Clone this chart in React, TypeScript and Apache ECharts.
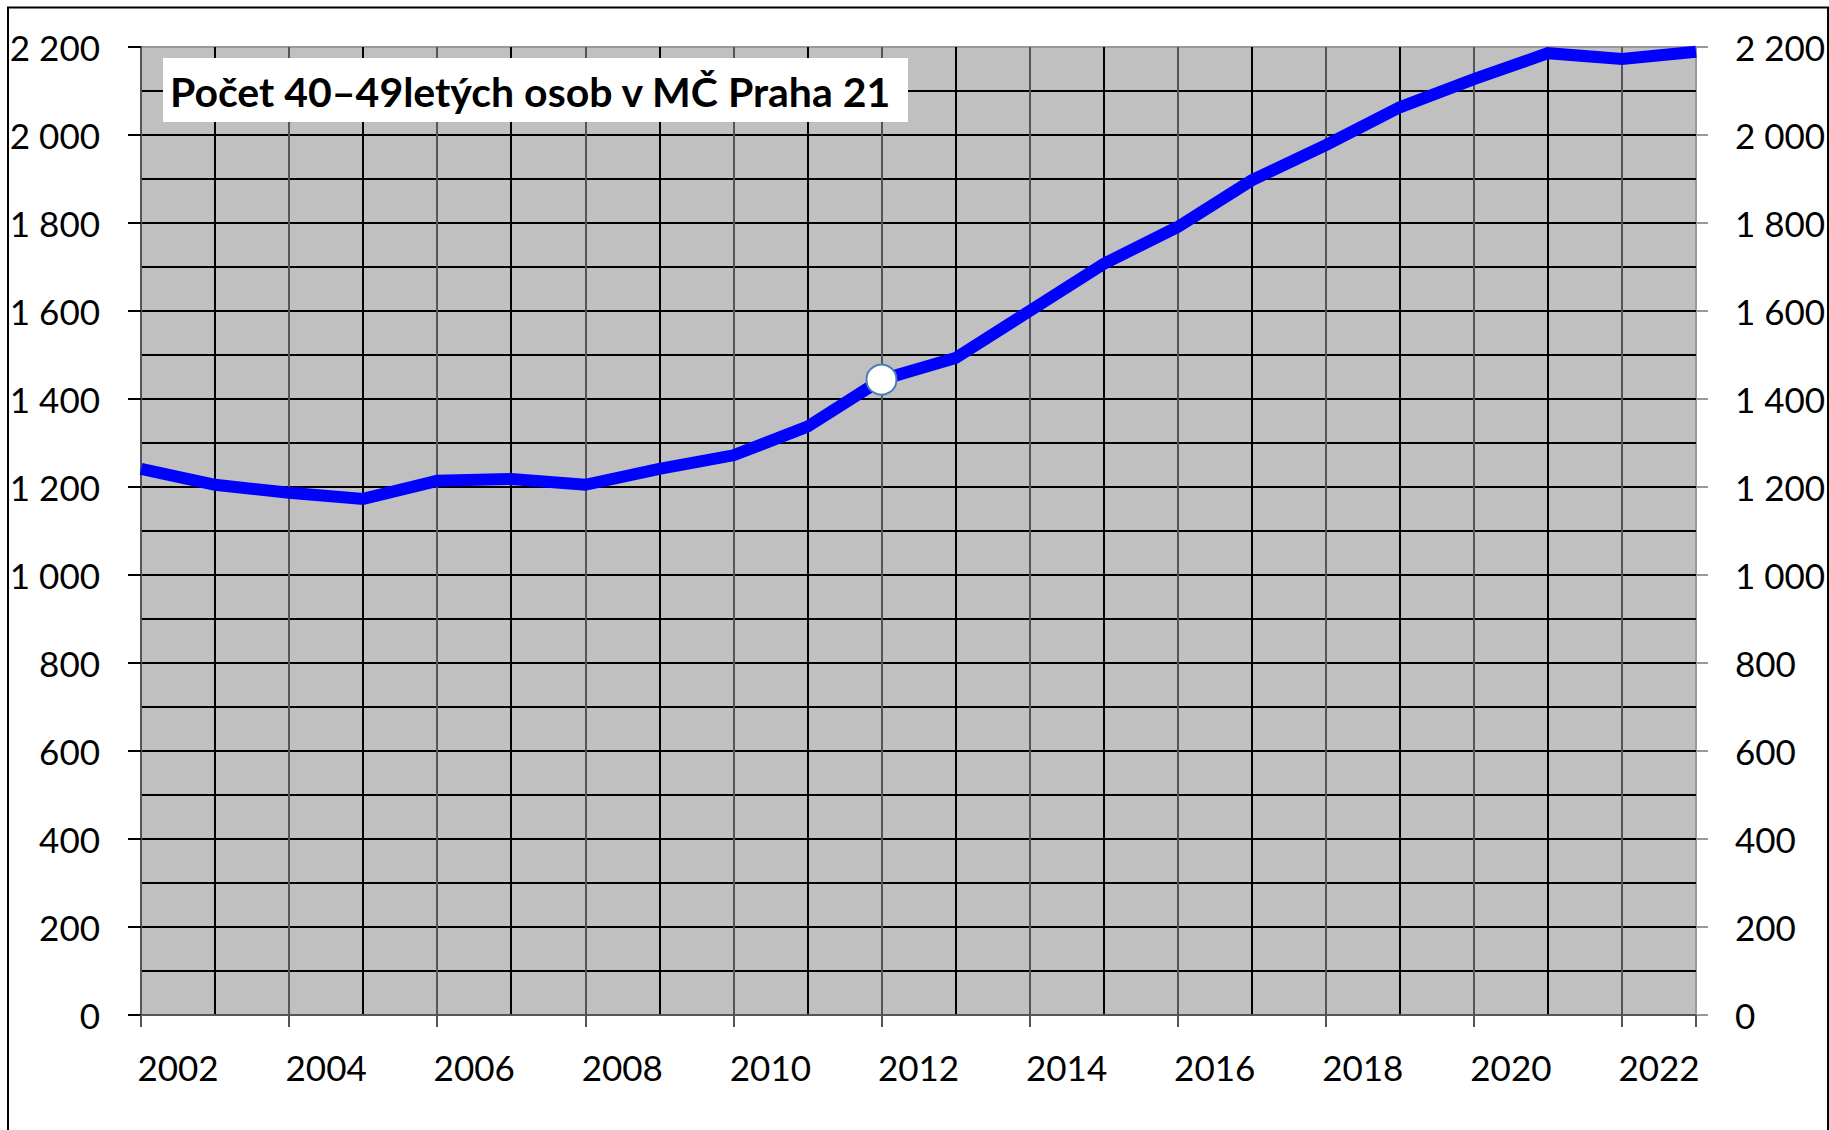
import React, { useEffect, useRef } from 'react';
import * as echarts from 'echarts';

const yearLabels = ['2002', '2003', '2004', '2005', '2006', '2007', '2008', '2009', '2010', '2011', '2012', '2013', '2014', '2015', '2016', '2017', '2018', '2019', '2020', '2021', '2022'];
const population = [1241, 1205, 1187, 1173, 1214, 1218, 1205, 1241, 1272, 1337, 1444, 1493, 1600, 1707, 1791, 1897, 1977, 2063, 2127, 2186, 2173, 2189];
const highlightedIndex = 10;
const titleText = 'Počet 40–49letých osob v MČ Praha 21';
const yMin = 0;
const yMax = 2200;

const fmt = (v: number) =>
  v >= 1000 ? `${Math.floor(v / 1000)} ${String(v % 1000).padStart(3, '0')}` : String(v);

const FONT = 'Lato';

export default function App() {
  const ref = useRef<HTMLDivElement>(null);
  useEffect(() => {
    if (!ref.current) return;
    const chart = echarts.init(ref.current, undefined, { renderer: 'svg' });
    chart.setOption({
      animation: false,
      grid: {
        left: 141,
        right: 133,
        top: 47,
        bottom: 115,
        show: true,
        backgroundColor: '#c0c0c0',
        borderColor: '#999',
        borderWidth: 2,
      },
      xAxis: [
        {
          type: 'category',
          data: yearLabels,
          boundaryGap: true,
          position: 'bottom',
          axisLine: { show: true, lineStyle: { color: '#555', width: 2 } },
          axisTick: { show: true, interval: 1, length: 12, lineStyle: { color: '#555', width: 2 } },
          axisLabel: { interval: 1, margin: 34, fontSize: 35, fontFamily: FONT, color: '#000' },
          splitLine: { show: false },
        },
        {
          type: 'value',
          min: 0,
          max: population.length - 1,
          interval: 1,
          position: 'top',
          axisLine: { show: false },
          axisTick: { show: false },
          axisLabel: { show: false },
          splitLine: { show: true, showMaxLine: false, lineStyle: { color: ['#555', '#000'], width: 2 } },
        },
      ],
      yAxis: [
        {
          type: 'value',
          min: yMin,
          max: yMax,
          interval: 200,
          position: 'left',
          axisLine: { show: true, lineStyle: { color: '#555', width: 2 } },
          axisTick: { show: true, length: 13, lineStyle: { color: '#000', width: 2 } },
          axisLabel: { margin: 41, fontSize: 35, fontFamily: FONT, color: '#000', formatter: fmt },
          splitLine: { show: false },
        },
        {
          type: 'value',
          min: yMin,
          max: yMax,
          interval: 200,
          position: 'right',
          axisLine: { show: false },
          axisTick: { show: true, length: 12, lineStyle: { color: '#999', width: 2 } },
          axisLabel: { margin: 39, fontSize: 35, fontFamily: FONT, color: '#000', formatter: fmt },
          splitLine: { show: false },
        },
        {
          type: 'value',
          min: yMin,
          max: yMax,
          interval: 100,
          position: 'left',
          axisLine: { show: false },
          axisTick: { show: false },
          axisLabel: { show: false },
          splitLine: { show: true, showMinLine: false, showMaxLine: false, lineStyle: { color: '#000', width: 2 } },
        },
      ],
      series: [
        {
          type: 'line',
          xAxisIndex: 1,
          yAxisIndex: 0,
          data: population.map((v, i) => [i, v]),
          symbol: 'none',
          lineStyle: { color: '#0000ff', width: 12, join: 'miter' },
          z: 3,
        },
        {
          type: 'scatter',
          xAxisIndex: 1,
          yAxisIndex: 0,
          data: [[highlightedIndex, population[highlightedIndex]]],
          symbol: 'circle',
          symbolSize: 30,
          itemStyle: { color: '#fff', borderColor: '#4a7ebb', borderWidth: 2, opacity: 1 },
          z: 4,
        },
      ],
      graphic: [
        {
          type: 'rect',
          silent: true,
          shape: { x: 8, y: 7.5, width: 1820, height: 1200 },
          style: { fill: 'none', stroke: '#000', lineWidth: 2 },
          z: 20,
        },
        {
          type: 'rect',
          silent: true,
          shape: { x: 163, y: 58, width: 745, height: 64 },
          style: { fill: '#fff' },
          z: 20,
        },
        {
          type: 'text',
          silent: true,
          x: 170,
          y: 91,
          style: {
            text: titleText,
            fontSize: 41,
            fontWeight: 'bold',
            fontFamily: FONT,
            fill: '#000',
            verticalAlign: 'middle',
          },
          z: 21,
        },
      ],
    });
    return () => chart.dispose();
  }, []);
  return <div ref={ref} style={{ position: 'absolute', left: 0, top: 0, width: 1829, height: 1130 }} />;
}
